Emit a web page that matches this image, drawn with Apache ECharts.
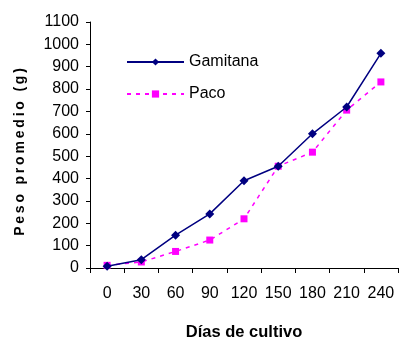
<!DOCTYPE html>
<html>
<head>
<meta charset="utf-8">
<script src="https://cdn.jsdelivr.net/npm/echarts@6/dist/echarts.min.js"></script>
<style>
  html, body { margin: 0; padding: 0; background: #fff; }
  #chart { width: 403px; height: 340px; }
</style>
</head>
<body>
<div id="chart"></div>
<script>
// Average fish weight (g) by days of culture
const dias = ['0', '30', '60', '90', '120', '150', '180', '210', '240'];
const gamitana = [8, 37, 147, 242, 390, 455, 600, 720, 960];
const paco = [12, 27, 74, 125, 220, 455, 518, 706, 832];

const FONT = '"Liberation Sans", Arial, sans-serif';
// y-axis title is set with widened letter spacing (thin spaces between glyphs)
const yTitle = Array.from('Peso promedio (g)').join('\u2009');

const chart = echarts.init(document.getElementById('chart'), null, { renderer: 'canvas' });
chart.setOption({
  animation: false,
  backgroundColor: '#ffffff',
  grid: { left: 90, right: 5, top: 22, bottom: 72, containLabel: false, outerBoundsMode: 'none' },
  legend: {
    orient: 'vertical',
    left: 126,
    top: 54,
    padding: 0,
    itemWidth: 57,
    itemHeight: 9,
    itemGap: 16,
    textStyle: { fontFamily: FONT, fontSize: 16, color: '#000' },
    data: ['Gamitana', 'Paco']
  },
  graphic: [{
    type: 'text',
    x: 20,
    y: 152,
    rotation: Math.PI / 2,
    style: {
      text: yTitle,
      fontFamily: FONT,
      fontSize: 14,
      fontWeight: 'bold',
      fill: '#000',
      align: 'center',
      verticalAlign: 'middle'
    }
  }],
  xAxis: {
    type: 'category',
    data: dias,
    boundaryGap: true,
    name: 'Días de cultivo',
    nameLocation: 'middle',
    nameGap: 56,
    nameTextStyle: { fontFamily: FONT, fontSize: 16.5, fontWeight: 'bold', color: '#000' },
    axisLine: { lineStyle: { color: '#000', width: 1 } },
    axisTick: { show: true, length: 5, interval: 0, alignWithLabel: false, lineStyle: { color: '#000' } },
    axisLabel: { fontFamily: FONT, fontSize: 16, color: '#000', margin: 18, interval: 0, hideOverlap: false },
    splitLine: { show: false }
  },
  yAxis: {
    type: 'value',
    min: 0,
    max: 1100,
    interval: 100,
    axisLine: { show: true, lineStyle: { color: '#000', width: 1 } },
    axisTick: { show: true, length: 4, lineStyle: { color: '#000' } },
    axisLabel: {
      fontFamily: FONT, fontSize: 16, color: '#000', margin: 11,
      formatter: function (v) { return String(v); }
    },
    splitLine: { show: false }
  },
  series: [
    {
      name: 'Gamitana',
      type: 'line',
      data: gamitana,
      symbol: 'diamond',
      symbolSize: 9,
      showAllSymbol: true,
      itemStyle: { color: '#000080' },
      lineStyle: { color: '#000080', width: 1.5, type: 'solid' },
      z: 3
    },
    {
      name: 'Paco',
      type: 'line',
      data: paco,
      symbol: 'rect',
      symbolSize: 7,
      showAllSymbol: true,
      itemStyle: { color: '#ff00ff' },
      lineStyle: { color: '#ff00ff', width: 1.5, type: [4, 5] },
      z: 2
    }
  ]
});
</script>
</body>
</html>
